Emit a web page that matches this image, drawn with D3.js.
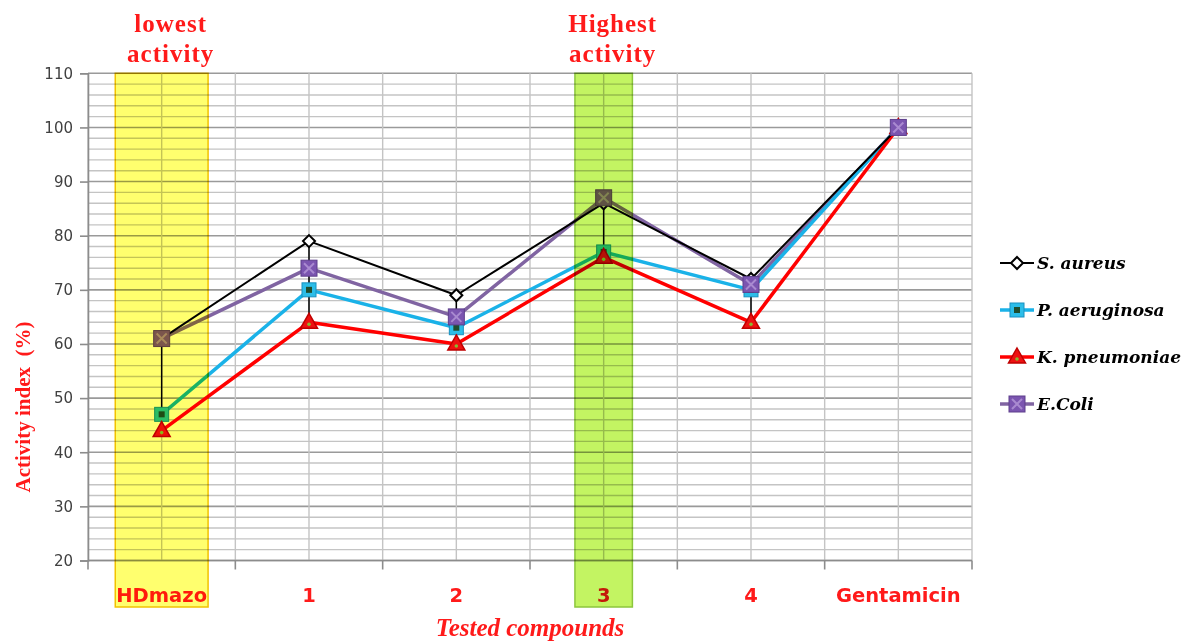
<!DOCTYPE html>
<html>
<head>
<meta charset="utf-8">
<script src="https://cdn.jsdelivr.net/npm/d3@7"></script>
<style>
  html, body { margin: 0; padding: 0; background: #fff; }
  svg { display: block; }
</style>
</head>
<body>
<svg id="chart" width="1184" height="641"></svg>
<script>
const categories = ["HDmazo", "1", "2", "3", "4", "Gentamicin"];
const seriesNames = ["S. aureus", "P. aeruginosa", "K. pneumoniae", "E.Coli"];
const sAureus = [61, 79, 69, 86, 72, 100];
const pAeruginosa = [47, 70, 63, 77, 70, 100];
const kPneumoniae = [44, 64, 60, 76, 64, 100];
const eColi = [61, 74, 65, 87, 71, 100];
const yTicks = [20, 30, 40, 50, 60, 70, 80, 90, 100, 110];
const highlightLow = "HDmazo";
const highlightHigh = "3";
const lowText = ["lowest", "activity"];
const highText = ["Highest", "activity"];

const svg = d3.select("#chart");
const L = 88, R = 972, T = 73.3, B = 560.5;

const x = d3.scalePoint().domain(categories).range([L, R]).padding(0.5);
const step = x.step();
const y = d3.scaleLinear().domain([20, 110]).range([B, T]);

// Grid
const g = svg.append("g");
const minor = d3.range(20, 111, 2);
g.selectAll("line.hminor").data(minor).enter().append("line")
  .attr("x1", L).attr("x2", R)
  .attr("y1", d => y(d)).attr("y2", d => y(d))
  .attr("stroke", d => d % 10 === 0 ? "#9a9a9a" : "#c4c4c4")
  .attr("stroke-width", d => d % 10 === 0 ? 1.6 : 1.4);
const vlines = [];
categories.forEach((c, i) => { vlines.push(L + i * step); vlines.push(x(c)); });
vlines.push(R);
g.selectAll("line.v").data(vlines).enter().append("line")
  .attr("x1", d => d).attr("x2", d => d)
  .attr("y1", T).attr("y2", B)
  .attr("stroke", "#c4c4c4").attr("stroke-width", 1.4);

// Axes
const yAxis = d3.axisLeft(y).tickValues(yTicks).tickSize(8).tickPadding(7);
const ya = svg.append("g").attr("transform", `translate(${L},0)`).call(yAxis);
ya.select(".domain").attr("stroke", "#8c8c8c").attr("stroke-width", 1.6);
ya.selectAll(".tick line").attr("stroke", "#8c8c8c").attr("stroke-width", 1.6);
ya.selectAll(".tick text").attr("font-family", "DejaVu Sans, Verdana, sans-serif")
  .attr("font-size", 15).attr("fill", "#404040");

const xb = svg.append("g");
xb.append("line").attr("x1", L).attr("x2", R).attr("y1", B).attr("y2", B)
  .attr("stroke", "#8c8c8c").attr("stroke-width", 1.6);
const bounds = d3.range(categories.length + 1).map(i => L + i * step);
xb.selectAll("line.t").data(bounds).enter().append("line")
  .attr("x1", d => d).attr("x2", d => d).attr("y1", B).attr("y2", B + 9)
  .attr("stroke", "#8c8c8c").attr("stroke-width", 1.6);
xb.selectAll("text.c").data(categories).enter().append("text")
  .attr("x", d => x(d)).attr("y", 602)
  .attr("text-anchor", "middle")
  .attr("font-family", "DejaVu Sans, Verdana, sans-serif")
  .attr("font-weight", "bold").attr("font-size", 19.5)
  .attr("fill", "#ff1a1a").text(d => d);

// Axis titles
svg.append("text").attr("x", 530).attr("y", 636).attr("text-anchor", "middle")
  .attr("font-family", "Liberation Serif, DejaVu Serif, serif")
  .attr("font-style", "italic").attr("font-weight", "bold").attr("font-size", 25)
  .attr("fill", "#ff1a1a").text("Tested compounds");
svg.append("text").attr("transform", "translate(30,407) rotate(-90)")
  .attr("text-anchor", "middle")
  .attr("font-family", "Liberation Serif, DejaVu Serif, serif")
  .attr("font-weight", "bold").attr("font-size", 21)
  .attr("fill", "#ff1a1a").text("Activity index \u00a0(%)");

// Annotations
function annot(lines, cx) {
  svg.selectAll(null).data(lines).enter().append("text")
    .attr("x", cx).attr("y", (d, i) => 32 + i * 30)
    .attr("text-anchor", "middle")
    .attr("font-family", "Liberation Serif, DejaVu Serif, serif")
    .attr("font-weight", "bold").attr("font-size", 25)
    .attr("letter-spacing", 1)
    .attr("fill", "#ff1a1a").text(d => d);
}
annot(lowText, x(highlightLow) + 9);
annot(highText, x(highlightHigh) + 9);

// Series
const series = [
  { name: seriesNames[0], values: sAureus, color: "#000000", width: 2, marker: "diamond" },
  { name: seriesNames[1], values: pAeruginosa, color: "#1ab2e8", width: 3.5, marker: "squareC" },
  { name: seriesNames[2], values: kPneumoniae, color: "#ff0000", width: 3.5, marker: "triangle" },
  { name: seriesNames[3], values: eColi, color: "#8064a2", width: 3.5, marker: "squareX" }
];

const line = d3.line().x((d, i) => x(categories[i])).y(d => y(d));
const lineOrder = [3, 1, 2, 0];
lineOrder.forEach(k => {
  const s = series[k];
  svg.append("path").datum(s.values).attr("d", line)
    .attr("fill", "none").attr("stroke", s.color).attr("stroke-width", s.width)
    .attr("stroke-linejoin", "round");
});

function drawMarker(sel, type, cx, cy) {
  const m = sel.append("g").attr("transform", `translate(${cx},${cy})`);
  if (type === "diamond") {
    m.append("path").attr("d", "M0,-6L6,0L0,6L-6,0Z")
      .attr("fill", "#fff").attr("stroke", "#000").attr("stroke-width", 2);
  } else if (type === "squareC") {
    m.append("rect").attr("x", -7).attr("y", -7).attr("width", 14).attr("height", 14)
      .attr("fill", "#2cbde8").attr("stroke", "#1890c0").attr("stroke-width", 1);
    m.append("rect").attr("x", -3).attr("y", -3).attr("width", 6).attr("height", 6)
      .attr("fill", "#1f4d2e");
  } else if (type === "triangle") {
    m.append("path").attr("d", "M0,-9L8.5,6L-8.5,6Z")
      .attr("fill", "#ee1111").attr("stroke", "#c00000").attr("stroke-width", 1.5);
    m.append("circle").attr("cx", 0).attr("cy", 2).attr("r", 1.8).attr("fill", "#8ab830");
  } else if (type === "squareX") {
    m.append("rect").attr("x", -8).attr("y", -8).attr("width", 16).attr("height", 16)
      .attr("fill", "#7b55b0").attr("stroke", "#5e3f8c").attr("stroke-width", 1);
    m.append("path").attr("d", "M-5,-5L5,5M5,-5L-5,5")
      .attr("stroke", "#a98ad0").attr("stroke-width", 2);
  }
}

// high-low lines
categories.forEach((c, i) => {
  const vals = series.map(s => s.values[i]);
  svg.append("line").attr("x1", x(c)).attr("x2", x(c))
    .attr("y1", y(d3.max(vals))).attr("y2", y(d3.min(vals)))
    .attr("stroke", "#000").attr("stroke-width", 1.5);
});

series.forEach(s => {
  s.values.forEach((v, i) => drawMarker(svg, s.marker, x(categories[i]), y(v)));
});

// Highlight bands (multiply)
function band(cat, w, fill, stroke) {
  svg.append("rect")
    .attr("x", x(cat) - w / 2).attr("y", T)
    .attr("width", w).attr("height", 607 - T)
    .attr("fill", fill).attr("stroke", stroke).attr("stroke-width", 1.5)
    .style("mix-blend-mode", "multiply");
}
band(highlightLow, step * 0.63, "#ffff6e", "#f2c200");
band(highlightHigh, step * 0.39, "#c3f462", "#8cc63c");

// Legend
const lg = svg.append("g");
series.forEach((s, i) => {
  const yy = 263 + i * 47;
  lg.append("line").attr("x1", 1000).attr("x2", 1034).attr("y1", yy).attr("y2", yy)
    .attr("stroke", s.color).attr("stroke-width", s.width);
  drawMarker(lg, s.marker, 1017, yy);
  lg.append("text").attr("x", 1037).attr("y", yy + 6)
    .attr("font-family", "DejaVu Serif, Liberation Serif, serif")
    .attr("font-style", "italic").attr("font-weight", "bold").attr("font-size", 17)
    .attr("fill", "#000").text(s.name);
});
</script>
</body>
</html>
